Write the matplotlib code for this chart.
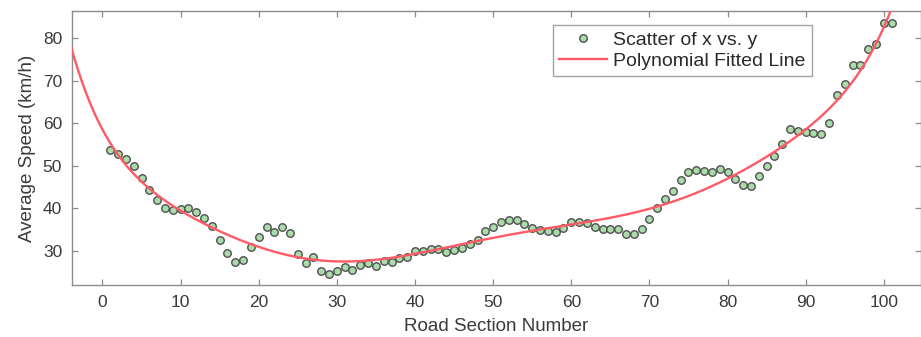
import numpy as np
import matplotlib
matplotlib.use("Agg")
import matplotlib.pyplot as plt

section = np.arange(1, 102)
speed = [53.6, 52.8, 51.6, 50.0, 47.2, 44.3, 41.9, 40.2, 39.7, 39.8,
         40.0, 39.2, 37.7, 35.8, 32.5, 29.6, 27.5, 28.0, 30.9, 33.3,
         35.6, 34.4, 35.7, 34.3, 29.3, 27.3, 28.6, 25.3, 24.6, 25.2,
         26.2, 25.5, 26.8, 27.3, 26.5, 27.6, 27.4, 28.3, 28.6, 30.0,
         30.0, 30.4, 30.4, 29.8, 30.2, 30.6, 31.7, 32.7, 34.6, 35.7,
         36.7, 37.2, 37.2, 36.3, 35.5, 34.9, 34.7, 34.5, 35.4, 36.7,
         36.8, 36.6, 35.6, 35.2, 35.1, 35.1, 34.1, 33.9, 35.2, 37.6,
         40.2, 42.3, 44.2, 46.6, 48.5, 49.1, 48.8, 48.5, 49.3, 48.5,
         46.8, 45.4, 45.3, 47.5, 50.0, 52.3, 55.2, 58.7, 58.2, 57.9,
         57.6, 57.4, 60.0, 66.5, 69.3, 73.7, 73.7, 77.4, 78.7, 83.5, 83.5]
fit_degree = 8
xticks = [0, 10, 20, 30, 40, 50, 60, 70, 80, 90, 100]
yticks = [30, 40, 50, 60, 70, 80]

plt.rcParams['font.family'] = ['Liberation Sans', 'DejaVu Sans']

fig = plt.figure(figsize=(9.21, 3.37), dpi=100)
ax = fig.add_axes([0.078, 0.154, 0.9215, 0.813])

ax.plot(section, speed, 'o', mfc='#a9dca9', mec='#505050', ms=5.4, mew=1.0,
        label='Scatter of x vs. y', zorder=3)
xx = np.linspace(-4, 105, 500)
sc = lambda v: (np.asarray(v) - 51) / 29.3
p = np.polyfit(sc(section), speed, fit_degree)
ax.plot(xx, np.polyval(p, sc(xx)), color='#ff5a66', lw=1.7,
        label='Polynomial Fitted Line', zorder=4)

ax.set_xlim(-3.92, 104.7)
ax.set_ylim(22, 86.3)
ax.set_xticks(xticks)
ax.set_yticks(yticks)

spine_c = '#8c8c8c'
for s in ax.spines.values():
    s.set_color(spine_c)
    s.set_linewidth(1.0)
ax.tick_params(direction='in', length=4, width=0.9, color=spine_c,
               top=True, right=True, labelsize=12.5, labelcolor='#3a3a3a', pad=7)

ax.set_xlabel('Road Section Number', fontsize=13.5, color='#3a3a3a', labelpad=6)
ax.set_ylabel('Average Speed (km/h)', fontsize=13.5, color='#3a3a3a', labelpad=5)

leg = ax.legend(loc='upper left', bbox_to_anchor=(0.567, 0.949), fontsize=14,
                frameon=True, fancybox=False, edgecolor='#8c8c8c',
                borderpad=0.3, labelspacing=0.2, handlelength=2.5,
                handletextpad=0.3, borderaxespad=0)
leg.get_frame().set_linewidth(1.0)
for t in leg.get_texts():
    t.set_color('#2a2a2a')

fig.savefig("out.png")
